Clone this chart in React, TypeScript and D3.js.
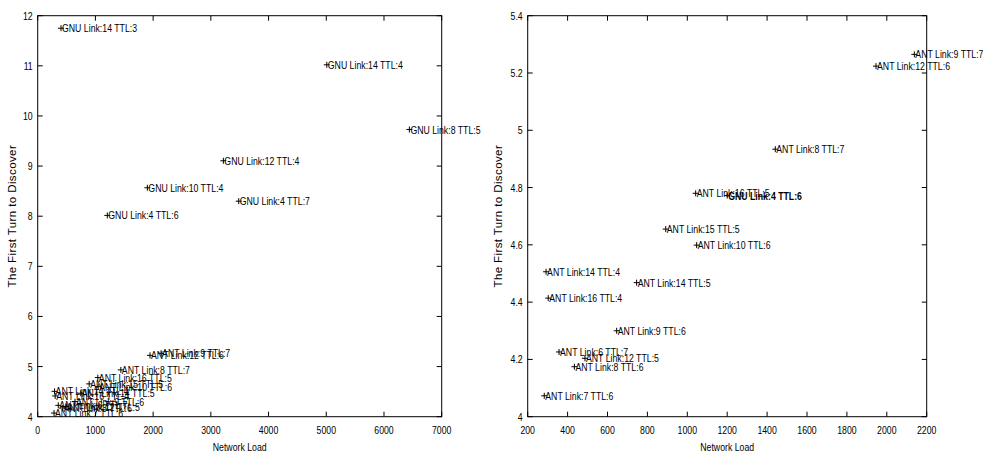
import React from "react";
import * as d3 from "d3";

// GNU (flooding) results: network load vs. first turn to discover
const gnuLabels = [
  "GNU Link:14 TTL:3",
  "GNU Link:14 TTL:4",
  "GNU Link:8 TTL:5",
  "GNU Link:12 TTL:4",
  "GNU Link:10 TTL:4",
  "GNU Link:4 TTL:7",
  "GNU Link:4 TTL:6",
];
const gnuLoad = [404, 5009, 6440, 3217, 1900, 3483, 1206];
const gnuTurn = [11.75, 11.02, 9.73, 9.106, 8.567, 8.3, 8.016];

// ANT results
const antLabels = [
  "ANT Link:9 TTL:7",
  "ANT Link:12 TTL:6",
  "ANT Link:8 TTL:7",
  "ANT Link:16 TTL:5",
  "ANT Link:15 TTL:5",
  "ANT Link:10 TTL:6",
  "ANT Link:14 TTL:4",
  "ANT Link:14 TTL:5",
  "ANT Link:16 TTL:4",
  "ANT Link:9 TTL:6",
  "ANT Link:6 TTL:7",
  "ANT Link:12 TTL:5",
  "ANT Link:8 TTL:6",
  "ANT Link:7 TTL:6",
];
const antLoad = [2138, 1946, 1441, 1042, 892, 1047, 292, 746, 303, 646, 357, 487, 434, 283];
const antTurn = [5.265, 5.224, 4.934, 4.78, 4.655, 4.599, 4.506, 4.468, 4.414, 4.3, 4.226, 4.204, 4.1745, 4.073];

// extra GNU entry shown on the zoomed (ANT) panel
const zoomExtraLabels = ["GNU Link:4 TTL:6"];
const zoomExtraLoad = [1200];
const zoomExtraTurn = [4.772];

// axis ticks
const leftXTicks = [0, 1000, 2000, 3000, 4000, 5000, 6000, 7000];
const leftYTicks = [4, 5, 6, 7, 8, 9, 10, 11, 12];
const rightXTicks = [200, 400, 600, 800, 1000, 1200, 1400, 1600, 1800, 2000, 2200];
const rightYTicks = [4, 4.2, 4.4, 4.6, 4.8, 5, 5.2, 5.4];

const xTitle = "Network Load";
const yTitle = "The First Turn to Discover";

type Pt = { label: string; x: number; y: number; bold?: boolean };

const FONT = "'Liberation Sans', Arial, Helvetica, sans-serif";
const NARROW = 0.76;

// condensed text: horizontal squeeze around the anchor point
function NText({
  x, y, anchor = "start", size = 11.5, weight = 400, children,
}: {
  x: number; y: number; anchor?: "start" | "middle" | "end"; size?: number; weight?: number; children: React.ReactNode;
}) {
  return (
    <text
      transform={`translate(${x},${y}) scale(${NARROW},1)`}
      textAnchor={anchor}
      dy="0.35em"
      fontFamily={FONT}
      fontSize={size}
      fontWeight={weight}
      fill="#000"
    >
      {children}
    </text>
  );
}

function Panel({
  left, right, top, bottom, xDomain, yDomain, xTicks, yTicks, points, yTitleX,
}: {
  left: number; right: number; top: number; bottom: number;
  xDomain: [number, number]; yDomain: [number, number];
  xTicks: number[]; yTicks: number[]; points: Pt[]; yTitleX: number;
}) {
  const x = d3.scaleLinear().domain(xDomain).range([left, right]);
  const y = d3.scaleLinear().domain(yDomain).range([bottom, top]);
  const tl = 5;
  const fmtY = (v: number) => d3.format("~g")(+v.toFixed(2));
  return (
    <g>
      {xTicks.map((t) => (
        <g key={"xt" + t}>
          <line x1={x(t)} x2={x(t)} y1={bottom} y2={bottom - tl} stroke="#000" />
          <line x1={x(t)} x2={x(t)} y1={top} y2={top + tl} stroke="#000" />
          <NText x={x(t)} y={430} anchor="middle">{t}</NText>
        </g>
      ))}
      {yTicks.map((t) => (
        <g key={"yt" + t}>
          <line x1={left} x2={left + tl} y1={y(t)} y2={y(t)} stroke="#000" />
          <line x1={right} x2={right - tl} y1={y(t)} y2={y(t)} stroke="#000" />
          <NText x={left - 5} y={y(t)} anchor="end">{fmtY(t)}</NText>
        </g>
      ))}
      <rect x={left} y={top} width={right - left} height={bottom - top} fill="none" stroke="#000" strokeWidth={1} />
      <NText x={(left + right) / 2} y={447} anchor="middle">{xTitle}</NText>
      <text
        transform={`translate(${yTitleX},${(top + bottom) / 2}) rotate(-90)`}
        textAnchor="middle"
        dy="0.35em"
        fontFamily={FONT}
        fontSize={11.5}
        letterSpacing={0.4}
        fill="#000"
      >
        {yTitle}
      </text>
      {points.map((p, i) => {
        const px = x(p.x);
        const py = y(p.y);
        return (
          <g key={"p" + i}>
            <path d={`M${px - 3},${py}H${px + 3}M${px},${py - 3}V${py + 3}`} stroke="#000" strokeWidth={1} />
            <NText x={px + 1} y={py} weight={p.bold ? 700 : 400}>{p.label}</NText>
          </g>
        );
      })}
    </g>
  );
}

export default function App() {
  const gnu: Pt[] = gnuLabels.map((l, i) => ({ label: l, x: gnuLoad[i], y: gnuTurn[i] }));
  const ant: Pt[] = antLabels.map((l, i) => ({ label: l, x: antLoad[i], y: antTurn[i] }));
  const extra: Pt[] = zoomExtraLabels.map((l, i) => ({ label: l, x: zoomExtraLoad[i], y: zoomExtraTurn[i], bold: true }));
  return (
    <svg
      width={983}
      height={455}
      style={{ position: "absolute", left: 0, top: 0, background: "#fff" }}
    >
      <rect width={983} height={455} fill="#fff" />
      <Panel
        left={37.7} right={441.7} top={15.7} bottom={416.7}
        xDomain={[0, 7000]} yDomain={[4, 12]}
        xTicks={leftXTicks} yTicks={leftYTicks}
        points={[...gnu, ...ant]} yTitleX={12}
      />
      <Panel
        left={527.7} right={926.7} top={15.7} bottom={416.7}
        xDomain={[200, 2200]} yDomain={[4, 5.4]}
        xTicks={rightXTicks} yTicks={rightYTicks}
        points={[...ant, ...extra]} yTitleX={498}
      />
    </svg>
  );
}
